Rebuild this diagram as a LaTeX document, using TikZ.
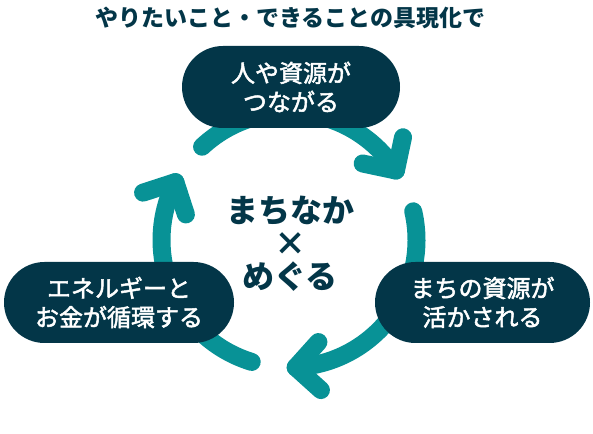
\documentclass[tikz,border=0pt]{standalone}
\usepackage{fontspec}
\setmainfont{Noto Sans CJK JP}
\newfontfamily\pillfont[FakeBold=2]{Noto Sans CJK JP}
\usetikzlibrary{shapes.misc}
\definecolor{navy}{RGB}{3,54,72}
\definecolor{cycleteal}{RGB}{8,146,150}
\tikzstyle{pill} = [rounded rectangle, fill=navy, text=white, align=center, inner sep=0pt, font=\pillfont\fontsize{24}{29}\selectfont]
\tikzstyle{cyclearc} = [draw=cycleteal, line width=18pt, line cap=round, line join=round]
\begin{document}
\begin{tikzpicture}[x=1pt, y=1pt]
\useasboundingbox (0,0) rectangle (593,433);
% circular arrows
\coordinate (hubc) at (289,193);
\foreach \s/\e in {133/33, 13/-87, 253/153} {
    \draw[cyclearc] (hubc) ++(\s:127.5) arc[start angle=\s, end angle=\e, radius=127.5];
    \draw[cyclearc] (hubc) ++(\e:127.5) coordinate (tip) ++(\e+45:34) -- (tip) -- ++(\e+135:34);
}
% title and centre
\node[text=navy, font=\bfseries\fontsize{23}{23}\selectfont] (title) at (290.5,415) {やりたいこと・できることの具現化で};
\node[text=navy, align=center, font=\bfseries\fontsize{32}{33}\selectfont] (hub) at (290,189) {まちなか\\×\\めぐる};
% pills
\node[pill, minimum width=218pt, minimum height=82pt] (connect) at (291,346) {人や資源が\\つながる};
\node[pill, minimum width=230pt, minimum height=81pt] (energy) at (119,130.5) {エネルギーと\\お金が循環する};
\node[pill, minimum width=215pt, minimum height=81pt] (resource) at (482.5,130.5) {まちの資源が\\活かされる};
\end{tikzpicture}
\end{document}
